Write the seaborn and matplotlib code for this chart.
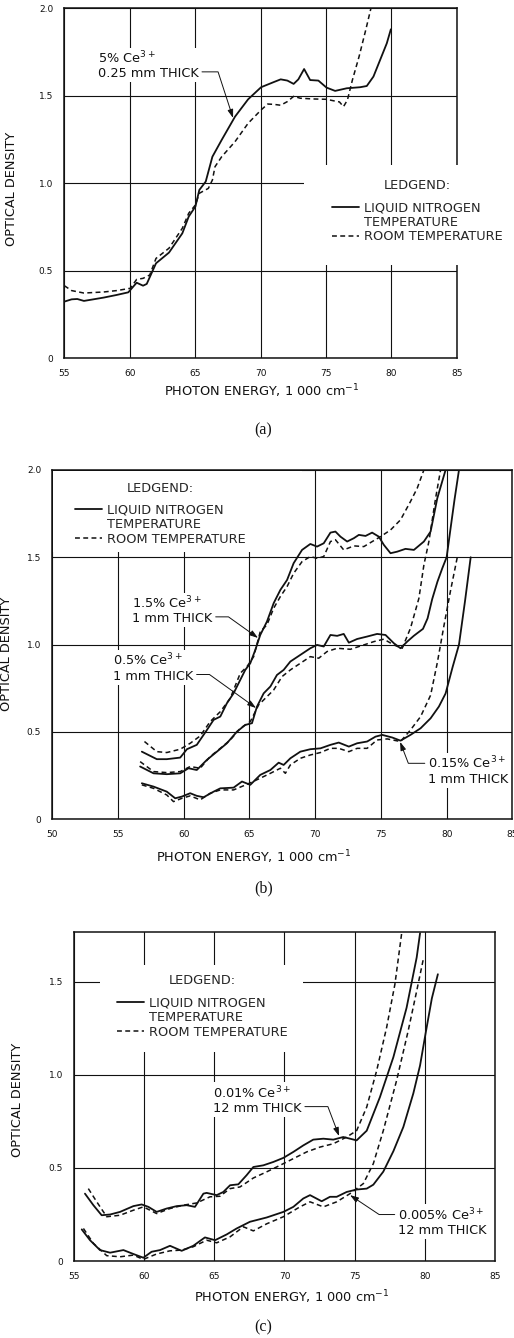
import numpy as np
import pandas as pd
import seaborn as sns
import matplotlib.pyplot as plt
from matplotlib.lines import Line2D
from matplotlib.patches import Rectangle

sns.set_style("white")
plt.rcParams['font.family'] = ['DejaVu Sans']

INK = "#111111"
FS = 9.3

# --------------------------------------------------
# (a) 5% Ce3+, 0.25 mm thick
# --------------------------------------------------
a_ln_x = [55.0, 55.56, 55.99, 56.5, 57.22, 58.01, 59.0, 59.89, 60.53, 61.02, 61.3, 62.01, 63.0,
          64.02, 64.51, 65.02, 65.32, 65.81, 66.32, 67.03, 68.05, 69.05, 70.04, 71.03, 71.54,
          72.05, 72.53, 72.89, 73.33, 73.79, 74.42, 75.04, 75.7, 76.59, 77.61, 78.12, 78.63,
          79.14, 79.65, 79.96]
a_ln_y = [0.324, 0.337, 0.339, 0.328, 0.337, 0.347, 0.362, 0.377, 0.432, 0.415, 0.425, 0.543, 0.604,
          0.714, 0.81, 0.867, 0.962, 1.01, 1.152, 1.248, 1.381, 1.48, 1.549, 1.579, 1.594,
          1.587, 1.568, 1.594, 1.653, 1.59, 1.587, 1.547, 1.528, 1.543, 1.549, 1.556, 1.61,
          1.705, 1.8, 1.88]
a_rt_x = [55.0, 55.56, 56.5, 58.01, 59.0, 60.04, 60.53, 61.02, 61.53, 62.01, 63.0, 64.02, 64.51,
          65.02, 65.32, 66.01, 66.32, 66.52, 67.03, 68.05, 69.05, 70.04, 70.55, 71.03, 71.54,
          72.05, 72.53, 73.04, 74.03, 75.04, 75.55, 76.03, 76.34, 76.64, 77.02, 77.53, 78.04, 78.5]
a_rt_y = [0.415, 0.387, 0.373, 0.379, 0.387, 0.40, 0.451, 0.457, 0.476, 0.571, 0.629, 0.743, 0.829,
          0.876, 0.943, 0.971, 1.019, 1.095, 1.152, 1.238, 1.343, 1.419, 1.453, 1.451, 1.446,
          1.467, 1.497, 1.486, 1.482, 1.48, 1.472, 1.465, 1.438, 1.476, 1.59, 1.724, 1.876, 2.02]

# --------------------------------------------------
# (b) 1 mm thick: 1.5%, 0.5%, 0.15% Ce3+
# --------------------------------------------------
b15_ln_x = [56.81, 57.95, 58.71, 59.73, 60.24, 60.99, 61.76, 62.27, 62.78, 63.28, 63.79, 64.3, 64.68,
            65.06, 65.44, 65.82, 66.33, 66.84, 67.35, 67.86, 68.36, 69.0, 69.63, 70.14, 70.65,
            71.16, 71.54, 71.92, 72.43, 72.94, 73.32, 73.83, 74.33, 74.84, 75.22, 75.73, 76.24,
            76.87, 77.51, 78.27, 78.78, 79.29, 79.92]
b15_ln_y = [0.387, 0.344, 0.344, 0.353, 0.401, 0.426, 0.511, 0.569, 0.588, 0.664, 0.721, 0.798, 0.855,
            0.893, 0.969, 1.055, 1.132, 1.237, 1.313, 1.37, 1.466, 1.542, 1.576, 1.561, 1.58,
            1.641, 1.647, 1.618, 1.59, 1.609, 1.628, 1.622, 1.641, 1.618, 1.571, 1.523, 1.532,
            1.548, 1.542, 1.59, 1.647, 1.838, 2.0]
b15_rt_x = [57.01, 57.95, 58.71, 59.73, 60.49, 61.25, 62.01, 62.78, 63.54, 64.3, 64.81, 65.32, 65.82,
            66.33, 66.84, 67.35, 67.86, 68.36, 69.0, 69.63, 70.14, 70.65, 71.16, 71.54, 72.17,
            72.94, 73.7, 74.21, 74.97, 75.73, 76.49, 77.25, 77.76, 78.27]
b15_rt_y = [0.445, 0.387, 0.382, 0.401, 0.435, 0.477, 0.559, 0.616, 0.693, 0.836, 0.874, 0.931, 1.074,
            1.113, 1.208, 1.275, 1.332, 1.408, 1.475, 1.504, 1.494, 1.504, 1.59, 1.6, 1.542,
            1.565, 1.561, 1.584, 1.618, 1.656, 1.714, 1.819, 1.895, 2.0]

b05_ln_x = [56.68, 57.7, 58.71, 59.73, 60.36, 60.99, 61.76, 62.52, 63.28, 64.05, 64.68, 65.19, 65.57,
            66.08, 66.59, 67.09, 67.6, 68.11, 68.87, 69.63, 70.14, 70.65, 71.16, 71.67, 72.17,
            72.56, 73.19, 73.95, 74.71, 75.35, 75.98, 76.49, 77.0, 77.5, 77.76, 78.2, 78.55,
            78.9, 79.3, 79.67, 80.0, 80.3, 80.6, 80.94]
b05_ln_y = [0.302, 0.263, 0.258, 0.263, 0.292, 0.282, 0.34, 0.387, 0.435, 0.502, 0.54, 0.55, 0.645,
            0.721, 0.76, 0.826, 0.855, 0.903, 0.941, 0.979, 0.998, 0.989, 1.055, 1.05, 1.061,
            1.011, 1.032, 1.046, 1.061, 1.055, 1.008, 0.979, 1.017, 1.05, 1.065, 1.09, 1.15,
            1.26, 1.36, 1.437, 1.5, 1.666, 1.83, 2.0]
b05_rt_x = [56.68, 57.7, 58.71, 59.73, 60.49, 61.25, 62.01, 62.78, 63.54, 64.3, 65.06, 65.7, 66.33,
            66.84, 67.48, 68.11, 68.87, 69.63, 70.27, 70.9, 71.67, 72.68, 73.7, 74.46, 75.22,
            75.98, 76.62, 77.25, 77.89, 78.27, 78.65, 79.16, 79.54]
b05_rt_y = [0.33, 0.273, 0.267, 0.273, 0.302, 0.292, 0.359, 0.406, 0.454, 0.521, 0.559, 0.655, 0.702,
            0.74, 0.817, 0.855, 0.893, 0.931, 0.922, 0.96, 0.979, 0.973, 0.998, 1.017, 1.031,
            0.998, 0.979, 1.094, 1.265, 1.456, 1.59, 1.838, 2.0]

b015_ln_x = [56.81, 57.7, 58.71, 59.35, 59.86, 60.49, 60.99, 61.51, 62.27, 62.78, 63.79, 64.43, 65.06,
             65.82, 66.59, 67.22, 67.6, 68.11, 68.87, 69.63, 70.4, 71.16, 71.79, 72.56, 73.19,
             73.95, 74.59, 75.1, 75.86, 76.49, 77.25, 78.02, 78.78, 79.41, 79.92, 80.45, 80.94,
             81.4, 81.83]
b015_ln_y = [0.206, 0.187, 0.158, 0.12, 0.13, 0.149, 0.134, 0.126, 0.158, 0.177, 0.181, 0.216, 0.197,
             0.254, 0.282, 0.324, 0.311, 0.349, 0.387, 0.401, 0.406, 0.426, 0.439, 0.416, 0.435,
             0.445, 0.473, 0.483, 0.468, 0.45, 0.483, 0.521, 0.578, 0.645, 0.72, 0.87, 1.0,
             1.25, 1.5]
b015_rt_x = [56.81, 57.7, 58.71, 59.22, 59.86, 60.49, 61.25, 62.01, 62.78, 63.79, 64.81, 65.82, 66.59,
             67.35, 67.73, 68.11, 68.87, 69.63, 70.4, 71.16, 71.79, 72.56, 73.19, 73.95, 74.71,
             75.48, 76.49, 77.25, 78.02, 78.78, 79.3, 79.8, 80.3, 80.81]
b015_rt_y = [0.197, 0.177, 0.139, 0.101, 0.12, 0.134, 0.111, 0.149, 0.168, 0.168, 0.2, 0.235, 0.263,
             0.292, 0.263, 0.311, 0.349, 0.368, 0.382, 0.406, 0.406, 0.387, 0.406, 0.406, 0.454,
             0.46, 0.445, 0.511, 0.588, 0.71, 0.9, 1.11, 1.31, 1.5]

# --------------------------------------------------
# (c) 12 mm thick: 0.01%, 0.005% Ce3+
# --------------------------------------------------
c01_ln_x = [55.78, 56.38, 56.97, 57.57, 58.28, 59.23, 59.82, 60.3, 60.89, 61.6, 62.32, 63.03, 63.62,
            64.22, 64.45, 65.17, 65.64, 66.12, 66.71, 67.3, 67.78, 68.49, 69.2, 69.92, 70.63,
            71.34, 72.05, 72.77, 73.48, 74.19, 74.67, 75.14, 75.86, 76.8, 77.76, 78.7, 79.42, 79.66]
c01_ln_y = [0.362, 0.30, 0.246, 0.25, 0.264, 0.295, 0.304, 0.291, 0.264, 0.282, 0.295, 0.30, 0.291,
            0.362, 0.366, 0.354, 0.371, 0.407, 0.412, 0.461, 0.505, 0.514, 0.532, 0.554, 0.586,
            0.621, 0.652, 0.657, 0.652, 0.666, 0.657, 0.648, 0.70, 0.88, 1.095, 1.36, 1.63, 1.76]
c01_rt_x = [56.02, 56.62, 57.33, 58.28, 59.23, 59.94, 60.89, 61.84, 62.79, 63.74, 64.69, 65.4, 66.12,
            66.83, 67.78, 68.73, 69.68, 70.63, 71.58, 72.53, 73.48, 74.43, 75.14, 75.86, 76.57,
            77.28, 77.87, 78.35]
c01_rt_y = [0.389, 0.318, 0.238, 0.246, 0.273, 0.291, 0.255, 0.282, 0.30, 0.312, 0.345, 0.348, 0.389,
            0.398, 0.446, 0.479, 0.514, 0.55, 0.586, 0.612, 0.63, 0.666, 0.70, 0.827, 1.023,
            1.255, 1.487, 1.76]

c005_ln_x = [55.55, 56.14, 56.85, 57.57, 58.52, 59.23, 59.94, 60.53, 61.13, 61.84, 62.67, 63.5, 64.33,
             65.05, 65.88, 66.59, 67.54, 68.73, 69.92, 70.63, 71.34, 71.82, 72.65, 73.24, 73.72,
             74.43, 75.14, 75.86, 76.33, 77.04, 77.76, 78.47, 79.18, 79.66, 80.05, 80.5, 80.93]
c005_ln_y = [0.17, 0.112, 0.059, 0.045, 0.059, 0.038, 0.018, 0.05, 0.059, 0.082, 0.055, 0.082, 0.127,
             0.112, 0.143, 0.175, 0.211, 0.234, 0.264, 0.291, 0.336, 0.354, 0.321, 0.345, 0.345,
             0.371, 0.384, 0.389, 0.41, 0.48, 0.59, 0.72, 0.9, 1.05, 1.22, 1.41, 1.54]
c005_rt_x = [55.67, 56.38, 57.33, 58.28, 59.23, 59.94, 60.89, 61.84, 62.67, 63.5, 64.45, 65.17, 66.12,
             67.07, 67.78, 68.73, 69.92, 71.1, 71.82, 72.77, 73.72, 74.67, 75.62, 76.33, 77.04,
             77.99, 78.82, 79.42, 79.89]
c005_rt_y = [0.175, 0.095, 0.029, 0.023, 0.032, 0.009, 0.038, 0.055, 0.059, 0.077, 0.112, 0.098, 0.13,
             0.184, 0.162, 0.20, 0.238, 0.291, 0.318, 0.291, 0.318, 0.362, 0.416, 0.523, 0.70,
             0.97, 1.238, 1.45, 1.62]

y_ticks_ab = [0, 0.5, 1.0, 1.5, 2.0]
y_labels_ab = ["0", "0.5", "1.0", "1.5", "2.0"]
y_ticks_c = [0, 0.5, 1.0, 1.5]
y_labels_c = ["0", "0.5", "1.0", "1.5"]

legend_labels = ["LIQUID NITROGEN", "TEMPERATURE", "ROOM TEMPERATURE"]
x_title = "PHOTON ENERGY, 1 000 cm$^{-1}$"
y_title = "OPTICAL DENSITY"
DASH = (0, (3.2, 2.2))


def draw_pair(ax, x_ln, y_ln, x_rt, y_rt):
    df_ln = pd.DataFrame({"energy": x_ln, "od": y_ln})
    df_rt = pd.DataFrame({"energy": x_rt, "od": y_rt})
    sns.lineplot(data=df_ln, x="energy", y="od", ax=ax, color=INK, lw=1.3,
                 estimator=None, sort=False, zorder=3)
    ln = ax.lines[-1]
    sns.lineplot(data=df_rt, x="energy", y="od", ax=ax, color=INK, lw=1.1,
                 linestyle=DASH, estimator=None, sort=False, zorder=3)
    rt = ax.lines[-1]
    return ln, rt


def style_axes(ax, xlim, xticks, ylim, yticks, ylabels, xlab_pos, ylab_pos, blank):
    ax.set_xlim(*xlim)
    ax.set_ylim(*ylim)
    ax.set_xticks(xticks)
    ax.set_yticks(yticks)
    ax.set_yticklabels(ylabels)
    ax.grid(True, color=INK, lw=0.8)
    ax.set_axisbelow(True)
    for sp in ax.spines.values():
        sp.set_color(INK)
        sp.set_linewidth(1.1)
    ax.tick_params(length=0, pad=8, labelsize=6.5, colors=INK)
    ax.set_xlabel(x_title, fontsize=FS, color=INK)
    ax.set_ylabel(y_title, fontsize=FS, color=INK)
    ax.xaxis.set_label_coords(*xlab_pos)
    ax.yaxis.set_label_coords(*ylab_pos)
    # white-out behind the legend, like the original drawing
    (x0, y0, x1, y1) = blank
    ax.add_patch(Rectangle((x0, y0), x1 - x0, y1 - y0, facecolor="white",
                           edgecolor="none", zorder=2.6, clip_on=False))


def add_legend(ax, ln, rt, anchor):
    blank = Line2D([], [], linestyle="none")
    leg = ax.legend(handles=[ln, blank, rt], labels=legend_labels, title="LEDGEND:",
                    loc="upper left", bbox_to_anchor=anchor, frameon=False,
                    fontsize=FS, title_fontsize=FS, handlelength=2.1,
                    handletextpad=0.4, labelspacing=0.12, borderpad=0, borderaxespad=0)
    # extra room between the title and the entries
    leg._legend_box.sep = 6.5


def note(ax, text, xy, xytext, angle_b, relpos):
    ax.annotate(text, xy=xy, xytext=xytext, fontsize=FS, color=INK,
                ha="left", va="center", linespacing=1.1, zorder=4,
                bbox=dict(boxstyle="square,pad=0.15", fc="white", ec="none"),
                arrowprops=dict(arrowstyle="-|>,head_length=0.55,head_width=0.18",
                                connectionstyle=f"angle,angleA=0,angleB={angle_b},rad=0",
                                color=INK, lw=0.7, shrinkA=1, shrinkB=0,
                                relpos=relpos))


fig = plt.figure(figsize=(5.14, 13.38), dpi=100)

# ---- panel (a)
ax_a = fig.add_axes([0.1251, 0.7322, 0.7636, 0.2616])
ln, rt = draw_pair(ax_a, a_ln_x, a_ln_y, a_rt_x, a_rt_y)
style_axes(ax_a, (55, 85), [55, 60, 65, 70, 75, 80, 85], (0, 2.0), y_ticks_ab, y_labels_ab,
           (0.504, -0.07), (-0.117, 0.483), (73.3, 0.533, 90, 1.105))
add_legend(ax_a, ln, rt, (0.682, 0.512))
note(ax_a, "5% Ce$^{3+}$\n0.25 mm THICK", (67.9, 1.373), (57.57, 1.677), 108, (1.0, 0.27))

# ---- panel (b)
ax_b = fig.add_axes([0.1018, 0.3877, 0.895, 0.2611])
ln, rt = draw_pair(ax_b, b15_ln_x, b15_ln_y, b15_rt_x, b15_rt_y)
draw_pair(ax_b, b05_ln_x, b05_ln_y, b05_rt_x, b05_rt_y)
draw_pair(ax_b, b015_ln_x, b015_ln_y, b015_rt_x, b015_rt_y)
style_axes(ax_b, (50, 85), [50, 55, 60, 65, 70, 75, 80, 85], (0, 2.0), y_ticks_ab, y_labels_ab,
           (0.437, -0.084), (-0.085, 0.473), (50.08, 1.531, 69.0, 1.992))
add_legend(ax_b, ln, rt, (0.049, 0.966))
note(ax_b, "1.5% Ce$^{3+}$\n1 mm THICK", (65.65, 1.038), (56.07, 1.199), 144.5, (1.0, 0.27))
note(ax_b, "0.5% Ce$^{3+}$\n1 mm THICK", (65.5, 0.637), (54.62, 0.869), 144.3, (1.0, 0.27))
note(ax_b, "0.15% Ce$^{3+}$\n1 mm THICK", (76.46, 0.443), (78.59, 0.28), 111, (0.0, 0.73))

# ---- panel (c)
ax_c = fig.add_axes([0.144, 0.0575, 0.819, 0.2457])
ln, rt = draw_pair(ax_c, c01_ln_x, c01_ln_y, c01_rt_x, c01_rt_y)
draw_pair(ax_c, c005_ln_x, c005_ln_y, c005_rt_x, c005_rt_y)
style_axes(ax_c, (55, 85), [55, 60, 65, 70, 75, 80, 85], (0, 1.765), y_ticks_c, y_labels_c,
           (0.516, -0.083), (-0.118, 0.49), (56.85, 1.122, 71.32, 1.59))
add_legend(ax_c, ln, rt, (0.102, 0.872))
note(ax_c, "0.01% Ce$^{3+}$\n12 mm THICK", (73.89, 0.671), (64.91, 0.867), 110.8, (1.0, 0.27))
note(ax_c, "0.005% Ce$^{3+}$\n12 mm THICK", (74.67, 0.354), (78.09, 0.212), 146.3, (0.0, 0.73))

# ---- captions
for label, ypos in [("(a)", 0.6786), ("(b)", 0.3363), ("(c)", 0.0082)]:
    fig.text(0.512, ypos, label, family="Liberation Serif", fontsize=11.5,
             ha="center", va="center", color=INK)

fig.savefig("out.png", dpi=100)
